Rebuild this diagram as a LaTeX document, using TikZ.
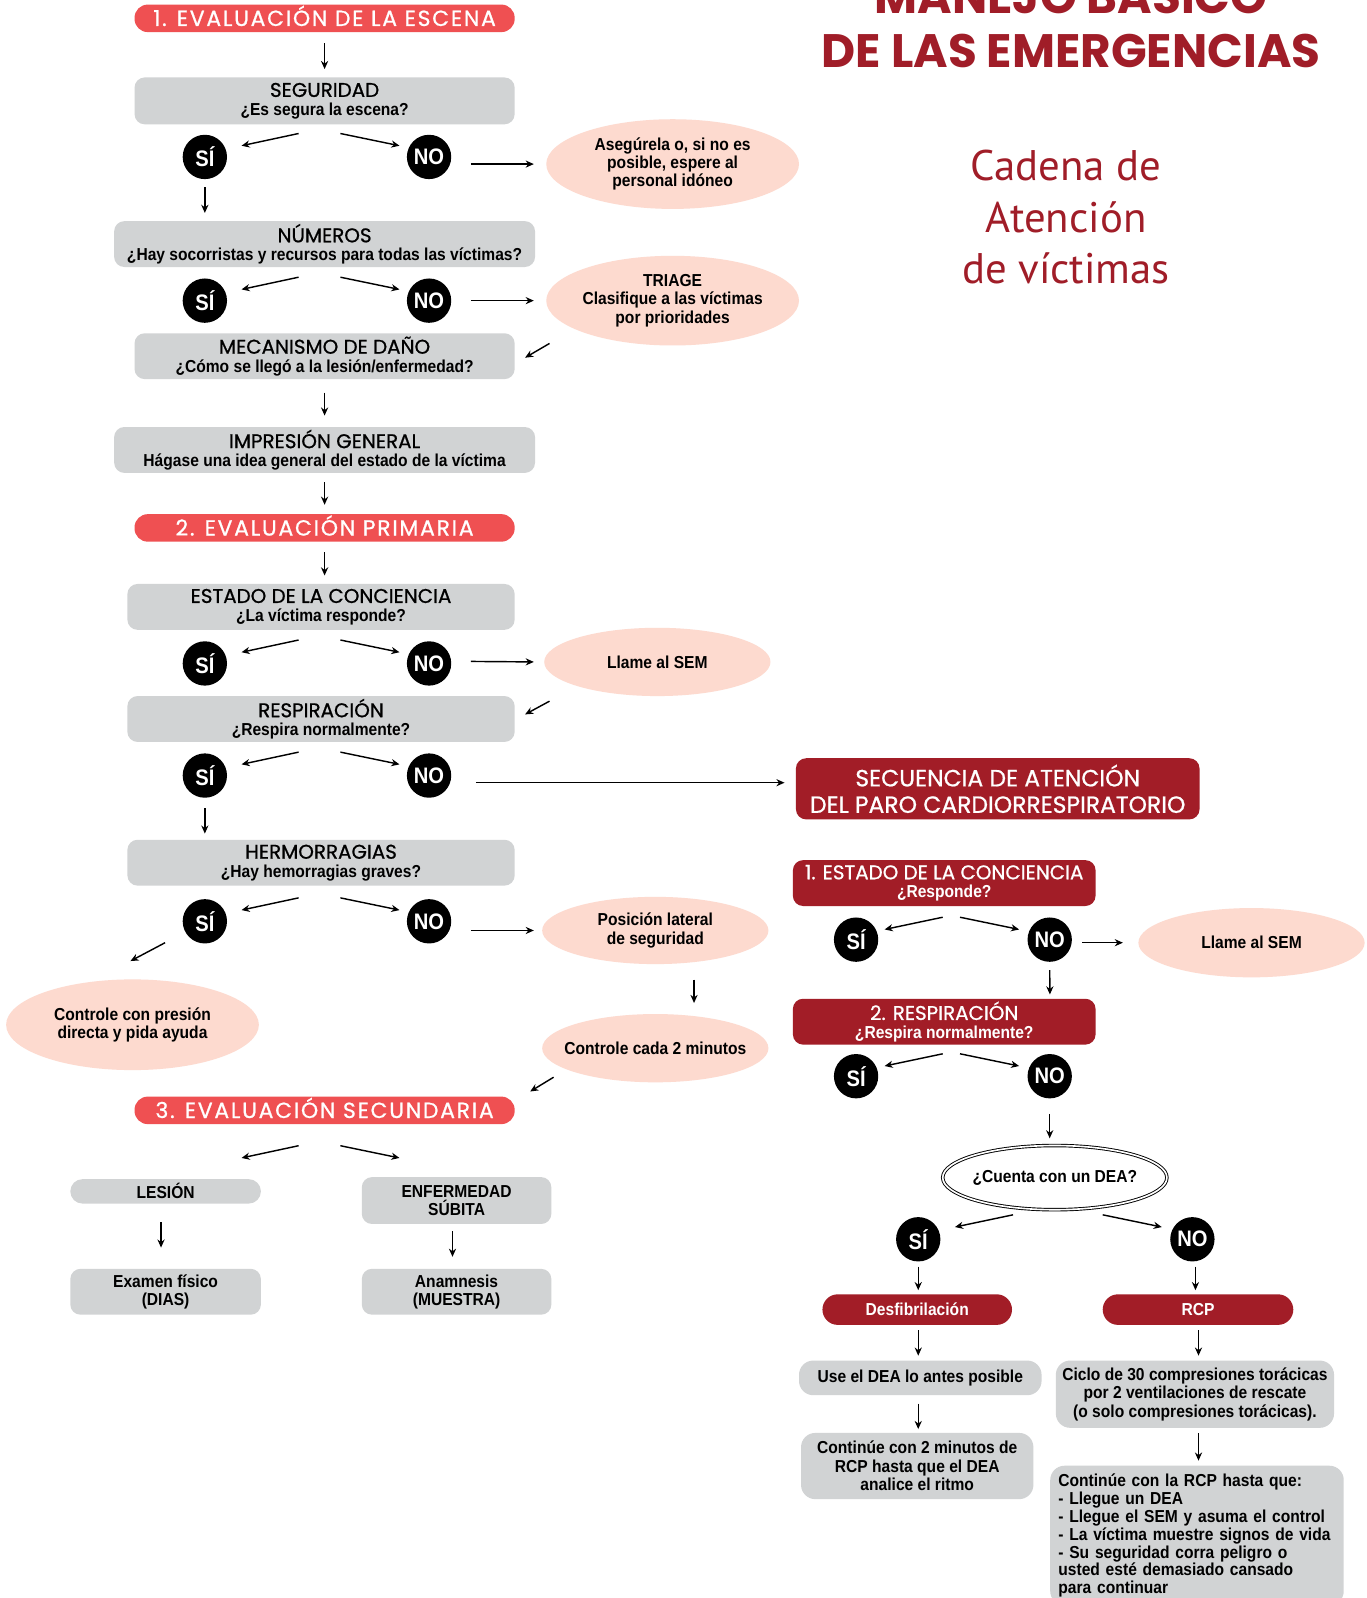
\documentclass[tikz,border=0pt]{standalone}
\usepackage{fontspec}
\usetikzlibrary{arrows.meta,calc,shapes.geometric}
\newfontfamily\popfont{Poppins}
\newfontfamily\popmed[FakeBold=0.8]{Poppins}
\newfontfamily\pophdr[FakeBold=0.8, LetterSpace=8]{Poppins}
\newfontfamily\condfont[FakeStretch=0.9]{Liberation Sans}
\newfontfamily\humfont{PT Sans}
\definecolor{coral}{HTML}{EF5052}
\definecolor{boxgray}{HTML}{D1D3D4}
\definecolor{peach}{HTML}{FDDACF}
\definecolor{darkred}{HTML}{A21D27}
\definecolor{titlered}{HTML}{A01D28}
\newcommand\tf{\popmed\mdseries\fontsize{19.5}{18}\selectfont}
\newcommand\qf{\condfont\bfseries\fontsize{17}{18}\selectfont}
\tikzset{
  hdr/.style={fill=coral, rounded corners=13pt, minimum width=373pt, minimum height=27pt, text=white, inner sep=0pt, text height=15pt, text depth=0pt, font=\pophdr\fontsize{21.5}{22}\selectfont},
  gbox/.style={fill=boxgray, rounded corners=10pt, align=center, inner sep=0pt, font=\qf},
  rbox/.style={fill=darkred, text=white, rounded corners=10pt, align=center, inner sep=0pt, font=\qf},
  bubble/.style={ellipse, fill=peach, align=center, inner xsep=-20pt, inner ysep=0pt, font=\qf},
  yn/.style={circle, fill=black, minimum size=43.5pt, inner sep=0pt, text=white, font=\condfont\bfseries\fontsize{22}{22}\selectfont},
  arr/.style={-{Stealth[length=8pt,width=7pt]}, line width=1.4pt},
}
\begin{document}
\begin{tikzpicture}[x=1pt,y=-1pt]
\useasboundingbox (0,0) rectangle (1341,1568);
\clip (0,0) rectangle (1341,1568);
\fill[white] (0,0) rectangle (1341,1568);

% ---------- titles ----------
\node[anchor=base, text=titlered, font=\popfont\bfseries\fontsize{46}{50}\selectfont, inner sep=0pt] (t1) at (1051,13) {MANEJO BÁSICO};
\node[anchor=base, text=titlered, font=\popfont\bfseries\fontsize{46}{50}\selectfont, inner sep=0pt] (t2) at (1051,66) {DE LAS EMERGENCIAS};
\node[text=titlered, align=center, font=\humfont\fontsize{42}{50.5}\selectfont, inner sep=0pt] (cad) at (1046,213) {Cadena de\\Atención\\de víctimas};

% ---------- 1. escena ----------
\node[hdr] (h1) at (318.5,18) {1. EVALUACIÓN DE LA ESCENA};
\node[gbox, minimum width=373pt, minimum height=46pt] (seg) at (318.5,99) {{\tf SEGURIDAD}\\{\qf ¿Es segura la escena?}};
\node[yn] (s1) at (201,154) {SÍ};
\node[yn] (n1) at (421,154) {NO};
\node[bubble, minimum width=248pt, minimum height=88pt] (b1) at (660,161) {Asegúrela o, si no es\\posible, espere al\\personal idóneo};

\node[gbox, minimum width=413pt, minimum height=45pt] (num) at (318.5,239.5) {{\tf NÚMEROS}\\{\qf ¿Hay socorristas y recursos para todas las víctimas?}};
\node[yn] (s2) at (201,295) {SÍ};
\node[yn] (n2) at (421,295) {NO};
\node[bubble, minimum width=248pt, minimum height=88pt] (b2) at (660,295) {TRIAGE\\Clasifique a las víctimas\\por prioridades};

\node[gbox, minimum width=373pt, minimum height=45pt] (mec) at (318.5,349.5) {{\tf MECANISMO DE DAÑO}\\{\qf ¿Cómo se llegó a la lesión/enfermedad?}};
\node[gbox, minimum width=413pt, minimum height=45pt] (imp) at (318.5,441.5) {{\tf IMPRESIÓN GENERAL}\\{\qf Hágase una idea general del estado de la víctima}};

% ---------- 2. primaria ----------
\node[hdr] (h2) at (318.5,518) {2. EVALUACIÓN PRIMARIA};
\node[gbox, minimum width=380pt, minimum height=45pt] (est) at (315,595.5) {{\tf ESTADO DE LA CONCIENCIA}\\{\qf ¿La víctima responde?}};
\node[yn] (s3) at (201,651) {SÍ};
\node[yn] (n3) at (421,651) {NO};
\node[bubble, minimum width=222pt, minimum height=67pt] (b3) at (645,649.5) {Llame al SEM};

\node[gbox, minimum width=380pt, minimum height=45pt] (resp) at (315,705.5) {{\tf RESPIRACIÓN}\\{\qf ¿Respira normalmente?}};
\node[yn] (s4) at (201,761) {SÍ};
\node[yn] (n4) at (421,761) {NO};

\node[gbox, minimum width=380pt, minimum height=45pt] (hem) at (315,846.5) {{\tf HERMORRAGIAS}\\{\qf ¿Hay hemorragias graves?}};
\node[yn] (s5) at (201,904) {SÍ};
\node[yn] (n5) at (421,904) {NO};
\node[bubble, minimum width=222pt, minimum height=66pt] (b4) at (643,913) {Posición lateral\\de seguridad};
\node[bubble, minimum width=248pt, minimum height=89pt] (b5) at (130,1005.5) {Controle con presión\\directa y pida ayuda};
\node[bubble, minimum width=222pt, minimum height=67pt] (b6) at (643,1028.5) {Controle cada 2 minutos};

% ---------- 3. secundaria ----------
\node[hdr] (h3) at (318.5,1089.5) {3. EVALUACIÓN SECUNDARIA};
\node[gbox, minimum width=187pt, minimum height=24pt, rounded corners=12pt] (les) at (162.5,1169) {LESIÓN};
\node[gbox, minimum width=186pt, minimum height=46pt] (enf) at (448,1178) {ENFERMEDAD\\SÚBITA};
\node[gbox, minimum width=187pt, minimum height=45pt] (exa) at (162.5,1267.5) {Examen físico\\(DIAS)};
\node[gbox, minimum width=186pt, minimum height=45pt] (ana) at (448,1267.5) {Anamnesis\\(MUESTRA)};

% ---------- paro cardiorrespiratorio ----------
\node[rbox, minimum width=396pt, minimum height=60pt, font=\popmed\fontsize{23}{26}\selectfont] (sec) at (979,774) {SECUENCIA DE ATENCIÓN\\DEL PARO CARDIORRESPIRATORIO};
\node[rbox, minimum width=297pt, minimum height=45pt] (c1) at (926.5,866.5) {{\tf 1. ESTADO DE LA CONCIENCIA}\\{\qf ¿Responde?}};
\node[yn] (s6) at (840,922) {SÍ};
\node[yn] (n6) at (1030,922) {NO};
\node[bubble, minimum width=222pt, minimum height=68pt] (b7) at (1228,925) {Llame al SEM};
\node[rbox, minimum width=297pt, minimum height=45pt] (c2) at (926.5,1002.5) {{\tf 2. RESPIRACIÓN}\\{\qf ¿Respira normalmente?}};
\node[yn] (s7) at (840,1056) {SÍ};
\node[yn] (n7) at (1030,1056) {NO};
\node[ellipse, draw=black, double=white, double distance=1.6pt, line width=0.9pt, fill=white, minimum width=220pt, minimum height=63pt, inner xsep=-20pt, inner ysep=0pt, font=\qf] (dea) at (1035,1155.5) {¿Cuenta con un DEA?};
\node[yn] (s8) at (901,1216) {SÍ};
\node[yn] (n8) at (1170,1216) {NO};
\node[rbox, minimum width=186pt, minimum height=30pt, rounded corners=15pt] (des) at (900,1285) {Desfibrilación};
\node[rbox, minimum width=187pt, minimum height=30pt, rounded corners=15pt] (rcp) at (1175.5,1285) {RCP};
\node[gbox, minimum width=238pt, minimum height=34pt, rounded corners=14pt] (use) at (903,1352) {Use el DEA lo antes posible};
\node[gbox, minimum width=273pt, minimum height=66pt, rounded corners=14pt] (cic) at (1172.5,1368) {Ciclo de 30 compresiones torácicas\\por 2 ventilaciones de rescate\\(o solo compresiones torácicas).};
\node[gbox, minimum width=228pt, minimum height=65pt, rounded corners=14pt] (con2) at (900,1438.5) {Continúe con 2 minutos de\\RCP hasta que el DEA\\analice el ritmo};
\node[gbox, anchor=north, align=left, text width=272pt, inner xsep=8pt, minimum height=137pt, rounded corners=14pt, font=\condfont\bfseries\fontsize{17}{17.6}\selectfont] (con3) at (1174.5,1438) {Continúe con la RCP hasta que:\\- Llegue un DEA\\- Llegue el SEM y asuma el control\\- La víctima muestre signos de vida\\- Su seguridad corra peligro o\\usted esté demasiado cansado\\para continuar};

% ---------- arrows: vertical ----------
\draw[arr] ($(h1.south)+(0,10.5)$) -- ($(seg.north)+(0,-8)$);
\draw[arr] ($(s1.south)+(0,8)$) -- ($(s1.south)+(0,33)$);
\draw[arr] ($(mec.south)+(0,13)$) -- ($(imp.north)+(0,-11)$);
\draw[arr] ($(imp.south)+(0,9)$) -- ($(h2.north)+(0,-9)$);
\draw[arr] ($(h2.south)+(0,10)$) -- ++(0,23);
\draw[arr] ($(s4.south)+(0,10)$) -- ($(s4.south)+(0,35)$);
\draw[arr] ($(b4.south)+(38,15)$) -- ++(0,23);
\draw[arr] ($(les.south)+(-4.5,18)$) -- ++(0,25);
\draw[arr] ($(enf.south)+(-4,7)$) -- ++(0,25);
\draw[arr] ($(n6.south)+(0,8)$) -- ($(c2.north east)+(-45,-4)$);
\draw[arr] ($(n7.south)+(0,15)$) -- ++(0,24);
\draw[arr] ($(s8.south)+(0,5)$) -- ++(0,23);
\draw[arr] ($(n8.south)+(3,5)$) -- ++(0,23);
\draw[arr] ($(des.south)+(1,5)$) -- ++(0,25);
\draw[arr] ($(rcp.south)+(0.5,5)$) -- ++(0,25);
\draw[arr] ($(use.south)+(-2,8)$) -- ++(0,25);
\draw[arr] ($(cic.south)+(3.5,5)$) -- ++(0,27);

% ---------- arrows: horizontal ----------
\draw[arr] ($(n1.east)+(19,7)$) -- ($(b1.west)+(-12,0)$);
\draw[arr] ($(n2.east)+(19,0)$) -- ($(b2.west)+(-12,0)$);
\draw[arr] ($(n3.east)+(19,-2)$) -- ($(b3.west)+(-10,0)$);
\draw[arr] ($(n4.east)+(24,7)$) -- ($(sec.west)+(-11,-6)$);
\draw[arr] ($(n5.east)+(19,9)$) -- ($(b4.west)+(-8,0)$);
\draw[arr] ($(n6.east)+(10,3)$) -- ($(b7.west)+(-15,0)$);

% ---------- arrows: diagonal ----------
\draw[arr] ($(mec.east)+(34,-12.5)$) -- ($(mec.east)+(10,1.5)$);
\draw[arr] ($(resp.east)+(34,-17.5)$) -- ($(resp.east)+(10,-4.5)$);
\draw[arr] ($(s5)+(-39,21)$) -- ($(s5)+(-73,39)$);
\draw[arr] ($(h3.east)+(38,-32.5)$) -- ($(h3.east)+(15,-18.5)$);
\draw[arr] ($(h3.south)+(-25.5,21)$) -- ++(-56,12);
\draw[arr] ($(h3.south)+(15.5,21)$) -- ++(58,12);

% ---------- yes / no forks ----------
\foreach \s/\n in {s1/n1,s2/n2,s3/n3,s4/n4,s5/n5}{
  \draw[arr] ($(\s)+(92,-23)$) -- ($(\s)+(36,-11)$);
  \draw[arr] ($(\n)+(-87,-23)$) -- ($(\n)+(-29,-11)$);
}
\foreach \s/\n in {s6/n6,s7/n7}{
  \draw[arr] ($(\s)+(85,-22)$) -- ($(\s)+(28,-10)$);
  \draw[arr] ($(\n)+(-88,-22)$) -- ($(\n)+(-30,-10)$);
}
\draw[arr] ($(s8)+(93,-24)$) -- ($(s8)+(36,-12)$);
\draw[arr] ($(n8)+(-88,-24)$) -- ($(n8)+(-30,-12)$);
\end{tikzpicture}
\end{document}
